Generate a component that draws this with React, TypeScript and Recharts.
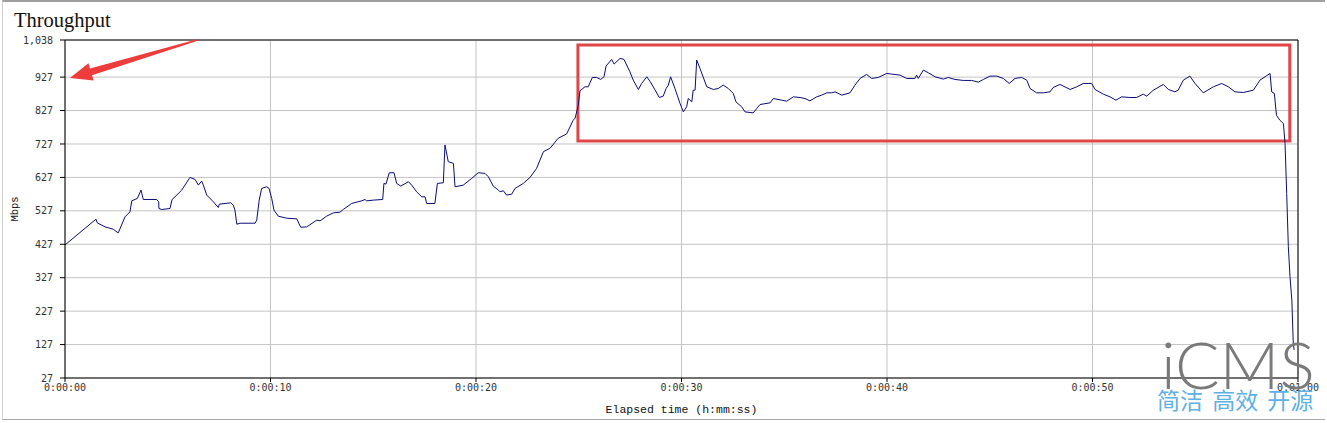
import React from "react";
import {
  LineChart, Line, XAxis, YAxis, CartesianGrid, ReferenceLine, ReferenceArea
} from "recharts";

// elapsed seconds / throughput in Mbps
const times = [
  0, 1.51, 1.57, 1.95, 2.35, 2.59, 2.92, 3.16, 3.25, 3.52,
  3.70, 3.81, 4.46, 4.56, 4.57, 4.71, 5.11, 5.21, 5.35, 5.68,
  6.05, 6.08, 6.33, 6.49, 6.65, 6.73, 6.90, 7.22, 7.46, 7.51,
  8.06, 8.19, 8.27, 8.36, 8.52, 9.25, 9.33, 9.45, 9.57, 9.81,
  9.93, 10.06, 10.17, 10.38, 10.79, 11.28, 11.47, 11.76, 12.25, 12.41,
  12.73, 13.06, 13.38, 13.54, 13.95, 14.44, 14.60, 14.68, 15.00, 15.46,
  15.52, 15.62, 15.78, 16.01, 16.14, 16.34, 16.71, 16.87, 17.11, 17.36,
  17.52, 17.60, 18.00, 18.12, 18.41, 18.49, 18.65, 18.90, 18.98, 19.38,
  19.79, 20.11, 20.44, 20.60, 20.84, 21.09, 21.17, 21.33, 21.49, 21.74,
  21.90, 22.30, 22.63, 22.95, 23.28, 23.60, 24.00, 24.41, 24.73, 24.82,
  24.98, 25.06, 25.30, 25.46, 25.66, 25.87, 26.07, 26.23, 26.33, 26.60,
  26.72, 27.01, 27.20, 27.49, 27.65, 27.90, 28.06, 28.31, 28.47, 28.71,
  28.92, 29.11, 29.25, 29.36, 29.47, 29.68, 29.93, 30.09, 30.25, 30.33,
  30.50, 30.57, 30.66, 30.74, 30.90, 31.23, 31.55, 31.79, 32.03, 32.28,
  32.52, 32.65, 32.93, 33.09, 33.49, 33.66, 33.82, 34.31, 34.47, 34.88,
  35.12, 35.44, 35.77, 36.01, 36.25, 36.58, 36.82, 37.07, 37.31, 37.47,
  37.80, 38.20, 38.44, 38.69, 39.01, 39.25, 39.58, 39.99, 40.23, 40.63,
  40.96, 41.36, 41.44, 41.52, 41.77, 42.01, 42.34, 42.74, 42.98, 43.31,
  43.71, 44.12, 44.44, 44.69, 45.01, 45.34, 45.66, 45.95, 46.23, 46.55,
  46.80, 46.96, 47.28, 47.61, 47.93, 48.09, 48.42, 48.91, 49.23, 49.55,
  49.96, 50.12, 50.53, 50.85, 51.14, 51.42, 51.82, 52.15, 52.47, 52.64,
  52.96, 53.45, 53.69, 54.01, 54.17, 54.42, 54.74, 54.99, 55.39, 55.88,
  56.29, 56.61, 56.93, 57.34, 57.83, 58.15, 58.64, 58.72, 58.85, 58.95,
  59.12, 59.29, 59.37, 59.45, 59.53, 59.61, 59.70, 59.77, 59.81,
];

const mbps = [
  425, 502, 491, 479, 472, 461, 509, 524, 557, 564,
  589, 561, 561, 554, 534, 531, 534, 561, 569, 589,
  624, 627, 621, 604, 616, 604, 574, 554, 537, 547,
  551, 544, 529, 487, 490, 490, 499, 559, 594, 599,
  594, 564, 529, 511, 505, 503, 478, 479, 499, 497,
  511, 521, 523, 531, 549, 557, 561, 557, 559, 561,
  609, 607, 641, 641, 609, 601, 614, 604, 584, 569,
  569, 549, 549, 609, 611, 724, 674, 669, 599, 604,
  624, 641, 639, 629, 601, 589, 584, 587, 574, 577,
  594, 609, 627, 654, 704, 714, 744, 757, 798, 804,
  843, 886, 898, 898, 926, 926, 920, 928, 960, 980,
  966, 983, 980, 943, 918, 890, 908, 928, 914, 889,
  866, 870, 893, 903, 928, 893, 848, 823, 838, 863,
  853, 888, 888, 978, 953, 898, 890, 893, 903, 893,
  878, 853, 838, 823, 820, 833, 845, 850, 863, 858,
  855, 868, 866, 863, 856, 868, 873, 880, 880, 883,
  873, 880, 903, 923, 935, 923, 926, 938, 936, 933,
  923, 923, 933, 923, 948, 940, 928, 921, 926, 920,
  917, 917, 912, 920, 930, 930, 923, 908, 923, 926,
  918, 893, 880, 880, 883, 896, 905, 890, 898, 908,
  908, 890, 876, 868, 858, 868, 866, 866, 876, 870,
  888, 905, 890, 883, 888, 918, 930, 908, 880, 898,
  908, 898, 883, 881, 888, 918, 938, 883, 878, 813,
  798, 788, 728, 579, 420, 330, 260, 131, 111,
];

const xTicks = [0, 10, 20, 30, 40, 50, 60];
const yTicks = [27, 127, 227, 327, 427, 527, 627, 727, 827, 927, 1038];

// highlighted region + arrow pointing at the ~927 level
const boxRange = { x1: 24.96, x2: 59.6, y1: 736, y2: 1023 };
const arrowFrom = { x: 6.45, y: 1038 };
const arrowTo = { x: 0.24, y: 924 };

const data = times.map((t, i) => ({ t, v: mbps[i] }));

const fmtTime = (s: number) => {
  const m = Math.floor(s / 60);
  const sec = s % 60;
  return `0:${String(m).padStart(2, "0")}:${String(sec).padStart(2, "0")}`;
};

const Arrow = (props: any) => {
  const { x1, y1, x2, y2 } = props;
  const dx = x2 - x1, dy = y2 - y1;
  const len = Math.sqrt(dx * dx + dy * dy);
  const ux = dx / len, uy = dy / len;
  const nx = -uy, ny = ux;
  const H = 22, W = 9, S = 3.5, T = 0.8;
  const bx = x2 - ux * H, by = y2 - uy * H;
  const pts = [
    [x1 + nx * T, y1 + ny * T],
    [bx + nx * S, by + ny * S],
    [bx + nx * W, by + ny * W],
    [x2, y2],
    [bx - nx * W, by - ny * W],
    [bx - nx * S, by - ny * S],
    [x1 - nx * T, y1 - ny * T],
  ].map(p => p.join(",")).join(" ");
  return <polygon points={pts} fill="#ee3c3c" stroke="none" />;
};

export default function App() {
  return (
    <div style={{ position: "fixed", left: 0, top: 0, width: 1327, height: 423, background: "#fff", overflow: "hidden" }}>
      <div style={{ position: "absolute", left: 2, top: 0, width: 1323, height: 420, borderTop: "2px solid #a0a0a0", borderLeft: "1px solid #d0d0d0", borderBottom: "1px solid #a8a8a8", boxSizing: "border-box" }} />
      <LineChart width={1327} height={423} data={data} margin={{ top: 40, right: 29, bottom: 0, left: 0 }}>
        <CartesianGrid stroke="#c4c4c4" strokeWidth={1} />
        <XAxis
          dataKey="t"
          type="number"
          domain={[0, 60]}
          ticks={xTicks}
          interval={0}
          tickFormatter={fmtTime}
          height={45}
          stroke="#000"
          tickSize={4}
          tickMargin={2}
          tick={{ fill: "#333", fontSize: 10, fontFamily: "DejaVu Sans Mono" }}
          label={{ value: "Elapsed time (h:mm:ss)", position: "insideBottom", offset: 10, fill: "#111", fontSize: 11.5, fontFamily: "Liberation Mono" }}
        />
        <YAxis
          type="number"
          domain={[27, 1038]}
          ticks={yTicks}
          interval={0}
          width={65}
          stroke="#000"
          tickSize={5}
          tickMargin={7}
          tickFormatter={(v) => v.toLocaleString("en-US")}
          tick={{ fill: "#333", fontSize: 10, fontFamily: "DejaVu Sans Mono" }}
          label={{ value: "Mbps", angle: -90, position: "insideLeft", offset: 14, fill: "#111", fontSize: 10.5, fontFamily: "Liberation Mono", style: { textAnchor: "middle" } }}
        />
        <ReferenceLine y={1038} stroke="#000" />
        <ReferenceLine x={60} stroke="#000" />
        <Line type="linear" dataKey="v" stroke="#0c0c78" strokeWidth={1} dot={false} isAnimationActive={false} />
        <ReferenceArea {...boxRange} fill="none" stroke="#e04646" strokeWidth={3} fillOpacity={0} />
        <ReferenceLine segment={[arrowFrom, arrowTo]} shape={Arrow} ifOverflow="visible" />
      </LineChart>
      <svg width={1327} height={423} style={{ position: "absolute", left: 0, top: 0, pointerEvents: "none" }}>
        <text x={14} y={27} fontSize={20.5} fontFamily="Liberation Serif" fill="#111">Throughput</text>
        <text x={1161} y={389} fontSize={66} fontFamily="Lato" fontWeight={300} fill="#7a7a7a">iCMS</text>
        <text x={1157} y={409} fontSize={23} fontFamily="Noto Sans CJK SC" fill="#5fb0e4" style={{ wordSpacing: 4 }}>简洁 高效 开源</text>
      </svg>
    </div>
  );
}
